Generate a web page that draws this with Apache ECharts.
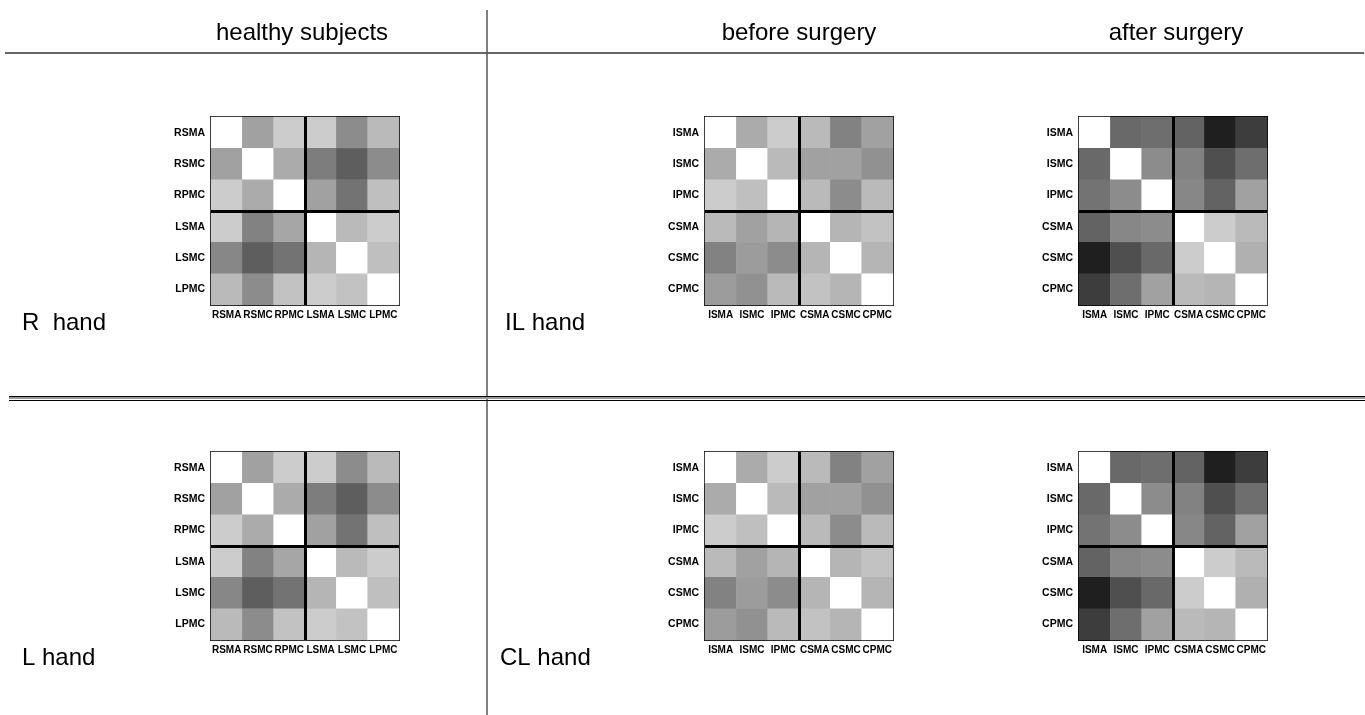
<!DOCTYPE html>
<html><head><meta charset="utf-8">
<script src="https://cdn.jsdelivr.net/npm/echarts@6/dist/echarts.min.js"></script>
<style>html,body{margin:0;padding:0;background:#fff}#c{width:1365px;height:715px}</style>
</head><body><div id="c"></div><script>
// ---- data ----
const healthyLabels = ['RSMA','RSMC','RPMC','LSMA','LSMC','LPMC'];
const patientLabels = ['ISMA','ISMC','IPMC','CSMA','CSMC','CPMC'];
const columnTitles = ['healthy subjects','before surgery','after surgery'];
const rowTitlesHealthy = ['R  hand','L hand'];
const rowTitlesPatient = ['IL hand','CL hand'];
// gray intensity: 0 = black, 1 = white
const healthyRHand = [
  [1.00,0.63,0.80,0.80,0.55,0.73],
  [0.63,1.00,0.67,0.49,0.37,0.55],
  [0.80,0.67,1.00,0.63,0.45,0.75],
  [0.80,0.51,0.65,1.00,0.73,0.80],
  [0.53,0.37,0.45,0.71,1.00,0.75],
  [0.73,0.55,0.76,0.80,0.76,1.00]
];
const beforeILHand = [
  [1.00,0.67,0.80,0.73,0.51,0.63],
  [0.67,1.00,0.73,0.63,0.63,0.57],
  [0.80,0.75,1.00,0.73,0.55,0.73],
  [0.73,0.63,0.71,1.00,0.71,0.76],
  [0.51,0.61,0.55,0.71,1.00,0.71],
  [0.61,0.57,0.73,0.76,0.71,1.00]
];
const afterILHand = [
  [1.00,0.41,0.43,0.39,0.12,0.24],
  [0.41,1.00,0.55,0.51,0.31,0.43],
  [0.45,0.55,1.00,0.53,0.39,0.63],
  [0.39,0.53,0.55,1.00,0.80,0.73],
  [0.12,0.31,0.41,0.80,1.00,0.69],
  [0.24,0.43,0.63,0.73,0.71,1.00]
];
const healthyLHand = [
  [1.00,0.63,0.80,0.80,0.55,0.73],
  [0.63,1.00,0.67,0.49,0.37,0.55],
  [0.80,0.67,1.00,0.63,0.45,0.75],
  [0.80,0.51,0.65,1.00,0.73,0.80],
  [0.53,0.37,0.45,0.71,1.00,0.75],
  [0.73,0.55,0.76,0.80,0.76,1.00]
];
const beforeCLHand = [
  [1.00,0.67,0.80,0.73,0.51,0.63],
  [0.67,1.00,0.73,0.63,0.63,0.57],
  [0.80,0.75,1.00,0.73,0.55,0.73],
  [0.73,0.63,0.71,1.00,0.71,0.76],
  [0.51,0.61,0.55,0.71,1.00,0.71],
  [0.61,0.57,0.73,0.76,0.71,1.00]
];
const afterCLHand = [
  [1.00,0.41,0.43,0.39,0.12,0.24],
  [0.41,1.00,0.55,0.51,0.31,0.43],
  [0.45,0.55,1.00,0.53,0.39,0.63],
  [0.39,0.53,0.55,1.00,0.80,0.73],
  [0.12,0.31,0.41,0.80,1.00,0.69],
  [0.24,0.43,0.63,0.73,0.71,1.00]
];

// ---- layout ----
const FONT = "'Liberation Sans', Arial, sans-serif";
const panels = [
  {m: healthyRHand, labels: healthyLabels, left: 211, top: 117},
  {m: beforeILHand, labels: patientLabels, left: 705, top: 117},
  {m: afterILHand,  labels: patientLabels, left: 1079, top: 117},
  {m: healthyLHand, labels: healthyLabels, left: 211, top: 452},
  {m: beforeCLHand, labels: patientLabels, left: 705, top: 452},
  {m: afterCLHand,  labels: patientLabels, left: 1079, top: 452}
];
const SIZE = 188;
const grids = [], xAxes = [], yAxes = [], series = [];
const border = {show: true, lineStyle: {color: '#000', width: 2}};
const tick = {show: true, inside: true, length: 3, alignWithLabel: true, lineStyle: {color: '#000', width: 1}};
const lab = {fontFamily: FONT, fontWeight: 'bold', color: '#000', interval: 0};
panels.forEach((p, g) => {
  grids.push({left: p.left, top: p.top, width: SIZE, height: SIZE});
  xAxes.push({type: 'category', gridIndex: g, position: 'bottom', data: p.labels,
    axisLine: border, axisTick: tick, axisLabel: Object.assign({margin: 5, fontSize: 10, hideOverlap: false}, lab), splitLine: {show: false}});
  xAxes.push({type: 'category', gridIndex: g, position: 'top', data: p.labels,
    axisLine: border, axisTick: tick, axisLabel: {show: false}, splitLine: {show: false}});
  xAxes.push({type: 'value', gridIndex: g, min: 0, max: 6, interval: 3, z: 10,
    axisLine: {show: false}, axisTick: {show: false}, axisLabel: {show: false},
    splitLine: {show: true, showMinLine: false, showMaxLine: false, lineStyle: {color: '#000', width: 3}}});
  yAxes.push({type: 'category', gridIndex: g, position: 'left', inverse: true, data: p.labels,
    axisLine: border, axisTick: tick, axisLabel: Object.assign({margin: 6, fontSize: 10.5}, lab), splitLine: {show: false}});
  yAxes.push({type: 'category', gridIndex: g, position: 'right', inverse: true, data: p.labels,
    axisLine: border, axisTick: tick, axisLabel: {show: false}, splitLine: {show: false}});
  yAxes.push({type: 'value', gridIndex: g, min: 0, max: 6, interval: 3, z: 10,
    axisLine: {show: false}, axisTick: {show: false}, axisLabel: {show: false},
    splitLine: {show: true, showMinLine: false, showMaxLine: false, lineStyle: {color: '#000', width: 3}}});
  const data = [];
  p.m.forEach((row, r) => row.forEach((v, c) => data.push([c, r, v])));
  series.push({type: 'heatmap', xAxisIndex: 3 * g, yAxisIndex: 3 * g, data: data,
    itemStyle: {borderWidth: 0}, emphasis: {disabled: true}, progressive: 0, animation: false});
});

const txt = (x, y, s, align) => ({type: 'text', x: x, y: y, silent: true,
  style: {text: s, font: "24px " + FONT, fill: '#000', align: align, verticalAlign: 'middle'}});
const graphics = [
  txt(302, 33, columnTitles[0], 'center'),
  txt(799, 33, columnTitles[1], 'center'),
  txt(1176, 33, columnTitles[2], 'center'),
  txt(22, 323, rowTitlesHealthy[0], 'left'),
  txt(505, 323, rowTitlesPatient[0], 'left'),
  txt(22, 658, rowTitlesHealthy[1], 'left'),
  txt(500, 658, rowTitlesPatient[1], 'left'),
  {type: 'line', silent: true, shape: {x1: 5, y1: 53, x2: 1364, y2: 53}, style: {stroke: '#333', lineWidth: 1.5}},
  {type: 'line', silent: true, shape: {x1: 487, y1: 10, x2: 487, y2: 715}, style: {stroke: '#555', lineWidth: 1.5}},
  {type: 'line', silent: true, shape: {x1: 9, y1: 398, x2: 1365, y2: 398}, style: {stroke: '#999', lineWidth: 2}},
  {type: 'line', silent: true, shape: {x1: 9, y1: 396.5, x2: 1365, y2: 396.5}, style: {stroke: '#000', lineWidth: 1}},
  {type: 'line', silent: true, shape: {x1: 9, y1: 400.5, x2: 1365, y2: 400.5}, style: {stroke: '#000', lineWidth: 1}}
];

const chart = echarts.init(document.getElementById('c'), null, {renderer: 'canvas'});
chart.setOption({
  animation: false,
  backgroundColor: '#fff',
  grid: grids, xAxis: xAxes, yAxis: yAxes,
  visualMap: {type: 'continuous', show: false, min: 0, max: 1, seriesIndex: [0,1,2,3,4,5],
    inRange: {color: ['#000000', '#ffffff']}},
  series: series,
  graphic: graphics
});
</script></body></html>
